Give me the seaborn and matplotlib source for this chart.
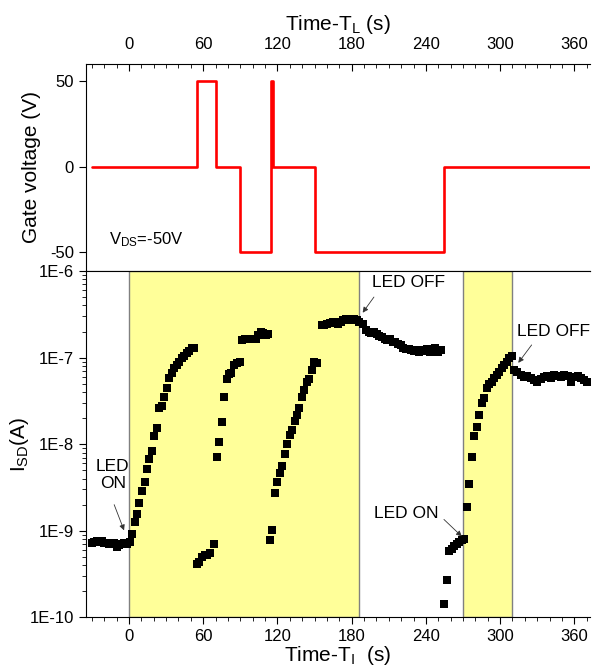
import matplotlib
matplotlib.use('Agg')
import matplotlib.pyplot as plt
import matplotlib.ticker as mticker
import pandas as pd
import seaborn as sns

# gate voltage programme (top panel)
gate_time = [-30, 55, 55, 70, 70, 90, 90, 115, 115, 116, 116, 150, 150, 255, 255, 373]
gate_volt = [0, 0, 50, 50, 0, 0, -50, -50, 50, 50, 0, 0, -50, -50, 0, 0]

# I_SD vs time
t_dark = [-30, -28, -26, -24, -22, -20, -18, -16, -14, -12, -10, -8, -6, -4, -2]
i_dark = [7.3e-10, 7.5e-10, 7.6e-10, 7.4e-10, 7.6e-10, 7.2e-10, 7.3e-10, 7.0e-10,
          7.1e-10, 7.3e-10, 6.5e-10, 6.8e-10, 7.0e-10, 7.2e-10, 7.1e-10]

t_rise1 = [0.8, 2.7, 4.6, 6.5, 8.4, 10.5, 12.7, 14.6, 16.4, 18.6, 20.5, 22.6, 24.5, 26.7,
           28.5, 30.7, 32.6, 34.5, 36.6, 38.5, 40.7, 42.6, 44.7, 46.6, 48.7, 50.7, 52.5]
i_rise1 = [7.4e-10, 9.1e-10, 1.26e-9, 1.58e-9, 2.1e-9, 2.85e-9, 3.7e-9, 5.1e-9, 6.8e-9,
           8.3e-9, 1.23e-8, 1.55e-8, 2.6e-8, 2.75e-8, 3.55e-8, 4.5e-8, 5.75e-8, 6.6e-8,
           7.6e-8, 8.3e-8, 8.9e-8, 9.8e-8, 1.05e-7, 1.12e-7, 1.2e-7, 1.29e-7, 1.3e-7]

t_rise2 = [54.7, 56.9, 59.0, 61.2, 63.3, 65.5, 69.0, 70.9, 73.0, 74.9, 76.8, 79.0, 81.1,
           82.7, 85.1, 87.3, 89.4, 91.6, 93.8, 95.9, 98.1, 100.2, 102.4, 104.5, 106.4,
           108.6, 110.8, 112.6]
i_rise2 = [4.1e-10, 4.4e-10, 5.0e-10, 5.25e-10, 5.25e-10, 5.5e-10, 7.1e-10, 7.1e-9, 1.05e-8,
           1.78e-8, 3.55e-8, 5.6e-8, 6.5e-8, 6.6e-8, 8.1e-8, 8.7e-8, 8.9e-8, 1.58e-7, 1.62e-7,
           1.64e-7, 1.66e-7, 1.66e-7, 1.62e-7, 1.82e-7, 2.0e-7, 1.9e-7, 1.82e-7, 1.86e-7]

t_rise3 = [114.0, 115.9, 118.0, 119.9, 122.0, 124.0, 125.9, 128.0, 129.9, 131.8, 134.0,
           135.8, 137.7, 139.9, 141.7, 143.9, 145.5, 147.7, 149.8, 152.2, 155.8, 157.9,
           160.0, 162.5, 164.7, 166.8, 169.0, 171.1, 173.3, 175.4, 177.6, 179.7, 181.9,
           184.0, 186.2]
i_rise3 = [7.8e-10, 1.02e-9, 2.75e-9, 3.7e-9, 4.6e-9, 5.6e-9, 7.6e-9, 1.0e-8, 1.26e-8,
           1.45e-8, 1.86e-8, 2.2e-8, 2.6e-8, 3.55e-8, 4.2e-8, 5.25e-8, 5.6e-8, 7.1e-8,
           8.9e-8, 8.7e-8, 2.35e-7, 2.4e-7, 2.43e-7, 2.5e-7, 2.6e-7, 2.57e-7, 2.43e-7,
           2.6e-7, 2.75e-7, 2.8e-7, 2.8e-7, 2.75e-7, 2.8e-7, 2.72e-7, 2.6e-7]

t_off1 = [189.5, 191.6, 193.8, 195.9, 198.0, 200.2, 202.3, 204.5, 206.7, 208.8, 211.0,
          213.2, 215.3, 217.5, 219.6, 221.8, 223.9, 226.1, 228.2, 230.4, 232.6, 234.7,
          236.9, 239.0, 241.2, 243.3, 245.5, 247.6, 249.8, 252.0]
i_off1 = [2.45e-7, 2.1e-7, 2.0e-7, 1.9e-7, 1.95e-7, 1.86e-7, 1.78e-7, 1.74e-7, 1.66e-7,
          1.58e-7, 1.62e-7, 1.53e-7, 1.51e-7, 1.43e-7, 1.41e-7, 1.29e-7, 1.26e-7, 1.26e-7,
          1.23e-7, 1.2e-7, 1.23e-7, 1.17e-7, 1.2e-7, 1.23e-7, 1.26e-7, 1.17e-7, 1.23e-7,
          1.29e-7, 1.17e-7, 1.23e-7]

t_rise4 = [254.6, 256.8, 258.9, 260.9, 263.0, 264.9, 267.0, 269.0, 271.1, 273.0, 275.1,
           277.0, 279.2, 281.1, 283.2, 285.4, 287.2, 289.4, 291.3, 293.5, 295.3, 297.3,
           299.4, 301.3, 303.4, 305.3, 307.4, 309.4]
i_rise4 = [1.43e-10, 2.7e-10, 5.9e-10, 6.2e-10, 6.6e-10, 7.1e-10, 7.4e-10, 7.9e-10, 8.1e-10,
           1.86e-9, 3.5e-9, 7.2e-9, 1.23e-8, 1.58e-8, 2.2e-8, 2.95e-8, 3.4e-8, 4.4e-8,
           4.9e-8, 5.25e-8, 5.75e-8, 6.3e-8, 6.9e-8, 7.6e-8, 8.3e-8, 8.9e-8, 9.8e-8, 1.05e-7]

t_off2 = [311.5, 314.0, 316.7, 319.4, 322.1, 324.8, 327.5, 330.2, 332.9, 335.6, 338.3,
          341.0, 343.7, 346.4, 349.1, 351.8, 354.5, 357.2, 359.9, 362.6, 365.3, 368.0, 370.5]
i_off2 = [7.2e-8, 6.8e-8, 6.3e-8, 6.0e-8, 6.2e-8, 5.75e-8, 5.5e-8, 5.25e-8, 5.6e-8, 5.95e-8,
          6.2e-8, 5.75e-8, 6.3e-8, 6.2e-8, 5.95e-8, 6.3e-8, 6.2e-8, 5.25e-8, 6.0e-8, 6.2e-8,
          5.75e-8, 5.5e-8, 5.25e-8]

led_on_periods = [(0, 186), (270, 310)]
x_ticks = [0, 60, 120, 180, 240, 300, 360]
y_ticks = [1e-10, 1e-9, 1e-8, 1e-7, 1e-6]
y_ticklabels = ['1E-10', '1E-9', '1E-8', '1E-7', '1E-6']

current = pd.DataFrame({
    'time': t_dark + t_rise1 + t_rise2 + t_rise3 + t_off1 + t_rise4 + t_off2,
    'isd': i_dark + i_rise1 + i_rise2 + i_rise3 + i_off1 + i_rise4 + i_off2,
})
gate = pd.DataFrame({'time': gate_time, 'vg': gate_volt})

sns.set_style('ticks')
plt.rcParams['font.family'] = ['Liberation Sans', 'DejaVu Sans']
plt.rcParams['mathtext.fontset'] = 'custom'
plt.rcParams['mathtext.rm'] = 'Liberation Sans'
plt.rcParams['mathtext.it'] = 'Liberation Sans:italic'
plt.rcParams['axes.unicode_minus'] = False
for key in ['text.color', 'axes.labelcolor', 'xtick.color', 'ytick.color', 'axes.edgecolor']:
    plt.rcParams[key] = 'black'

fig = plt.figure(figsize=(5.92, 6.66), dpi=100)
ax_top = fig.add_axes([0.1448, 0.5931, 0.8525, 0.3108])
ax = fig.add_axes([0.1448, 0.0731, 0.8525, 0.5200])
xlim = (-35, 373)

# TOP PANEL - gate voltage
sns.lineplot(data=gate, x='time', y='vg', sort=False, estimator=None, color='red',
             linewidth=1.9, ax=ax_top)
ax_top.set_xlim(xlim)
ax_top.set_ylim(-61, 60)
ax_top.xaxis.tick_top()
ax_top.xaxis.set_label_position('top')
ax_top.set_xticks(x_ticks)
ax_top.xaxis.set_minor_locator(mticker.MultipleLocator(10))
ax_top.set_yticks([-50, 0, 50])
ax_top.tick_params(axis='x', which='major', direction='in', length=5, labelsize=12, pad=9)
ax_top.tick_params(axis='x', which='minor', direction='in', length=3)
ax_top.tick_params(axis='y', direction='out', length=5, labelsize=12)
ax_top.set_xlabel(r'Time-T$_{\mathrm{L}}$ (s)', fontsize=15, labelpad=5)
ax_top.set_ylabel('Gate voltage (V)', fontsize=15)
ax_top.yaxis.set_label_coords(-0.088, 0.5)
ax_top.spines['right'].set_visible(False)
ax_top.text(-16.5, -42.6, r'V$_{\mathrm{DS}}$=-50V', fontsize=12, va='center', ha='left')

# BOTTOM PANEL - source-drain current
for start, end in led_on_periods:
    ax.axvspan(start, end, facecolor='#FFFF99', edgecolor='#808080', linewidth=1, zorder=0)
sns.scatterplot(data=current, x='time', y='isd', marker='s', s=28, color='black',
                linewidth=0, ax=ax, zorder=3)
ax.set_yscale('log')
ax.set_xlim(xlim)
ax.set_ylim(1e-10, 1e-6)
ax.set_xticks(x_ticks)
ax.xaxis.set_minor_locator(mticker.MultipleLocator(10))
ax.yaxis.set_major_locator(mticker.FixedLocator(y_ticks))
ax.set_yticklabels(y_ticklabels)
ax.yaxis.set_minor_locator(mticker.LogLocator(base=10, subs=range(2, 10)))
ax.yaxis.set_minor_formatter(mticker.NullFormatter())
ax.tick_params(axis='both', which='major', direction='out', length=5, labelsize=12)
ax.tick_params(axis='both', which='minor', direction='out', length=3)
ax.set_xlabel(r'Time-T$_{\mathrm{I}}$  (s)', fontsize=15, labelpad=0)
ax.set_ylabel(r'I$_{\mathrm{SD}}$(A)', fontsize=15)
ax.yaxis.set_label_coords(-0.108, 0.5)
ax.spines['right'].set_visible(False)

arrow = dict(arrowstyle='-|>', color='#333333', lw=0.6, mutation_scale=8, shrinkA=0, shrinkB=0)
ax.text(-13, 4.4e-9, 'LED\nON', fontsize=12.5, ha='center', va='center', linespacing=1.1)
ax.annotate('', xy=(-4, 1.01e-9), xytext=(-12, 2.0e-9), arrowprops=arrow)
ax.text(225.6, 7.3e-7, 'LED OFF', fontsize=12.5, ha='center', va='center')
ax.annotate('', xy=(188.9, 3.3e-7), xytext=(198, 5.0e-7), arrowprops=arrow)
ax.text(342.8, 2.0e-7, 'LED OFF', fontsize=12.5, ha='center', va='center')
ax.annotate('', xy=(314.7, 8.7e-8), xytext=(325.5, 1.4e-7), arrowprops=arrow)
ax.text(224.5, 1.58e-9, 'LED ON', fontsize=12.5, ha='center', va='center')
ax.annotate('', xy=(269, 8.6e-10), xytext=(254.6, 1.35e-9), arrowprops=arrow)

fig.savefig('out.png', dpi=100)
